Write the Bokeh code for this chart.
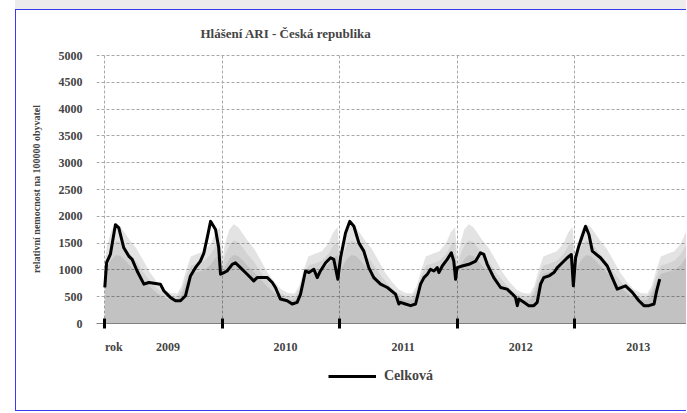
from bokeh.plotting import figure
from bokeh.models import FixedTicker, Range1d, Legend, LegendItem
from bokeh.layouts import column
from bokeh.embed import file_html
from bokeh.resources import INLINE

# ---- data -------------------------------------------------------------
title_text = "Hlášení ARI - Česká republika"
y_title = "relativní nemocnost na 100000 obyvatel"
series_name = "Celková"

# x = weeks counted from the first week of 2009
year_starts = [0, 52, 104, 156, 208]
year_labels = ["2009", "2010", "2011", "2012", "2013"]
first_label = "rok"
y_ticks = [0, 500, 1000, 1500, 2000, 2500, 3000, 3500, 4000, 4500, 5000]

celk_week = [0, 0.8, 2.5, 4.7, 6.2, 8.4, 10.6, 12.1, 14.3, 17.3, 19.5, 24.6, 26.1, 29, 31.3,
             33.5, 35.7, 37.9, 40.1, 42.3, 43.8, 45.3, 46.8, 49, 50.4, 51.2, 52.7, 54.1, 56.4,
             57.8, 60, 63, 65.9, 67.4, 71.9, 74.1, 75.5, 77.7, 80.7, 82.9, 85.1, 86.6, 88.8,
             90.3, 92.5, 94, 95.4, 97.7, 99.9, 101.3, 103.1, 104.3, 106.5, 108.4, 110.2, 112.4,
             114.6, 116.8, 119, 122, 125, 128.6, 130.1, 130.8, 133, 135.3, 137.5, 139.7, 141.2,
             142.7, 144.1, 145.6, 147.1, 147.8, 149.3, 151.5, 153.3, 154.4, 155.2, 155.9, 158.1,
             161.1, 164.1, 166.2, 167.7, 169.2, 172.1, 175.1, 178, 180.3, 181.7, 182.5, 183.2,
             185.4, 187.6, 189.8, 191.3, 192.8, 194.2, 196.5, 198.7, 200.2, 202.4, 204.6, 206.4,
             207.3, 208.3, 209.7, 211.2, 212.7, 214.2, 215.7, 219.3, 222.3, 224.5, 226.7, 230.4,
             233.4, 236.3, 238.5, 240.7, 243, 244, 245.5]
celk_val = [672, 1134, 1295, 1844, 1783, 1412, 1258, 1196, 980, 734, 765, 734, 610, 487, 425,
            425, 517, 888, 1042, 1165, 1310, 1597, 1906, 1752, 1412, 919, 950, 980, 1104,
            1134, 1042, 919, 796, 857, 857, 765, 672, 456, 425, 364, 395, 549, 980,
            950, 1011, 857, 980, 1134, 1227, 1196, 826, 1227, 1689, 1906, 1814, 1504,
            1350, 1042, 857, 734, 672, 549, 364, 395, 364, 333, 364, 734, 857,
            919, 1011, 980, 1042, 950, 1073, 1196, 1319, 1165, 826, 1042, 1073,
            1104, 1165, 1319, 1288, 1104, 857, 672, 642, 549, 487, 333, 456,
            395, 333, 333, 395, 734, 857, 888, 950, 1042, 1134, 1227, 1288,
            703, 1227, 1443, 1628, 1813, 1660, 1350, 1227, 1073, 857, 642, 703,
            580, 425, 333, 333, 364, 580, 826]

# historical profile by week of the year (same every season)
prof_week = [0, 1, 3, 5, 7, 9, 11, 14, 17, 20, 23, 26, 29, 32, 34, 36, 38, 41, 44, 47, 49, 51]
prof_max = [1150, 1450, 1750, 1850, 1800, 1680, 1560, 1400, 1180, 950, 780, 640, 570, 560,
            700, 1000, 1250, 1300, 1350, 1500, 1700, 1800]
prof_upper = [1000, 1250, 1450, 1550, 1520, 1420, 1300, 1150, 960, 800, 660, 560, 500, 500,
              620, 880, 1080, 1120, 1170, 1300, 1450, 1520]
prof_mean = [850, 1050, 1200, 1280, 1260, 1180, 1080, 960, 820, 680, 570, 490, 440, 440,
             540, 760, 930, 960, 1000, 1100, 1220, 1280]

# repeat the seasonal profile for each year shown
band_x, band_max, band_upper, band_mean = [], [], [], []
for ys in year_starts + [year_starts[-1] + 52]:
    for w, a, b, c in zip(prof_week, prof_max, prof_upper, prof_mean):
        band_x.append(ys + w)
        band_max.append(a)
        band_upper.append(b)
        band_mean.append(c)

label_pos = [year_starts[0] + 4] + [ys + 28 for ys in year_starts]
label_txt = [first_label] + year_labels

# ---- figure -----------------------------------------------------------
SERIF = "Liberation Serif"
BLUE = "1px solid #3a3af0"

p = figure(width=671, height=350,
           x_range=Range1d(-3.67, 257.8), y_range=Range1d(0, 5019),
           output_backend="svg", toolbar_location=None,
           min_border_left=80, min_border_right=0, min_border_top=43, min_border_bottom=37)
p.styles = {"border-left": BLUE, "border-top": BLUE}
p.background_fill_color = "white"
p.border_fill_color = "white"
p.outline_line_color = None

p.title.text = title_text
p.title.align = "left"
p.title.offset = 104
p.title.text_font = SERIF
p.title.text_font_style = "bold"
p.title.text_font_size = "13px"
p.title.standoff = 27

# bands
p.varea(x=band_x, y1=0, y2=band_max, fill_color="black", fill_alpha=0.11)
p.varea(x=band_x, y1=0, y2=band_upper, fill_color="black", fill_alpha=0.065)
p.varea(x=band_x, y1=0, y2=band_mean, fill_color="black", fill_alpha=0.08)

line = p.line(celk_week, celk_val, line_width=3, line_color="black", line_join="round")

# axes
ya = p.yaxis[0]
ya.ticker = FixedTicker(ticks=y_ticks)
ya.axis_line_color = None
ya.major_tick_in = 0
ya.major_tick_out = 0
ya.minor_tick_line_color = None
ya.major_label_standoff = 14
ya.major_label_text_font = SERIF
ya.major_label_text_font_style = "bold"
ya.major_label_text_font_size = "12px"
ya.axis_label = y_title
ya.axis_label_text_font = SERIF
ya.axis_label_text_font_style = "bold"
ya.axis_label_text_font_size = "10px"
ya.axis_label_standoff = 14

xa = p.xaxis[0]
xa.ticker = FixedTicker(ticks=label_pos, minor_ticks=year_starts)
xa.major_label_overrides = {pos: txt for pos, txt in zip(label_pos, label_txt)}
xa.axis_line_color = "#808080"
xa.major_tick_in = 0
xa.major_tick_out = 0
xa.minor_tick_in = 5
xa.minor_tick_out = 5
xa.minor_tick_line_width = 3
xa.minor_tick_line_color = "black"
xa.major_label_standoff = 11
xa.major_label_text_font = SERIF
xa.major_label_text_font_style = "bold"
xa.major_label_text_font_size = "12px"

p.xgrid.ticker = FixedTicker(ticks=year_starts)
for g in (p.xgrid[0], p.ygrid[0]):
    g.grid_line_color = "#a8a8a8"
    g.grid_line_dash = "3 2"
    g.grid_line_width = 1

# ---- legend strip below the chart -------------------------------------
lf = figure(width=671, height=52, x_range=Range1d(0, 1), y_range=Range1d(0, 1),
            output_backend="svg", toolbar_location=None,
            x_axis_location=None, y_axis_location=None, min_border=0)
lf.styles = {"border-left": BLUE, "border-bottom": BLUE}
lf.grid.visible = False
lf.outline_line_color = None
lf.background_fill_color = "white"
lf.border_fill_color = "white"
# same series, drawn outside this strip's ranges: only its legend entry shows
sample = lf.line(celk_week, celk_val, line_width=3, line_color="black")

legend = Legend(items=[LegendItem(label=series_name, renderers=[sample])],
                location=(232, 25), orientation="horizontal",
                glyph_width=48, glyph_height=20, label_standoff=8,
                border_line_color=None, background_fill_alpha=0,
                padding=0, margin=0,
                label_text_font=SERIF, label_text_font_style="bold",
                label_text_font_size="14px")
lf.add_layout(legend)

layout = column(p, lf, spacing=0)
layout.styles = {"margin-left": "15px", "margin-top": "9px",
                 "box-shadow": "0 -9px 0 0 #ececec"}
open("out.html", "w").write(file_html(layout, INLINE))
